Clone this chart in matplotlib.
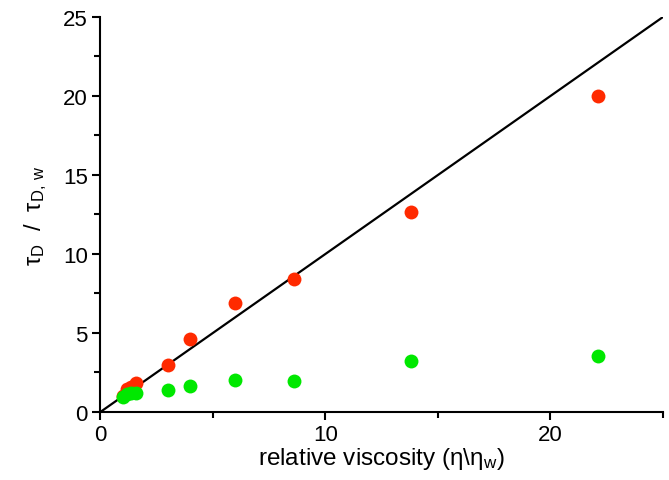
import matplotlib
matplotlib.use("Agg")
import matplotlib.pyplot as plt
from matplotlib.ticker import MultipleLocator

plt.rcParams['font.family'] = ['Liberation Sans', 'DejaVu Sans']
plt.rcParams['mathtext.fontset'] = 'custom'
plt.rcParams['mathtext.rm'] = 'Liberation Sans'
plt.rcParams['mathtext.it'] = 'Liberation Sans:italic'

viscosity = [1.0, 1.2, 1.35, 1.6, 3.0, 4.0, 6.0, 8.6, 13.8, 22.1]
tau_red = [1.0, 1.45, 1.55, 1.85, 3.0, 4.6, 6.9, 8.4, 12.65, 20.0]
tau_green = [0.97, 1.12, 1.2, 1.22, 1.42, 1.63, 2.02, 1.98, 3.23, 3.53]
line_x = [0, 25]
line_y = [0, 25]

fig = plt.figure(figsize=(6.69, 4.81), dpi=100)
ax = fig.add_axes([0.150, 0.1414, 0.841, 0.8212])

ax.plot(line_x, line_y, color='black', lw=1.6, zorder=1)
ax.plot(viscosity, tau_red, 'o', color='#ff2a00', ms=10, mec='none', zorder=2)
ax.plot(viscosity, tau_green, 'o', color='#00e800', ms=10, mec='none', zorder=3)

ax.set_xlim(0, 25)
ax.set_ylim(0, 25)
ax.xaxis.set_major_locator(MultipleLocator(10))
ax.xaxis.set_minor_locator(MultipleLocator(5))
ax.yaxis.set_major_locator(MultipleLocator(5))
ax.yaxis.set_minor_locator(MultipleLocator(2.5))

for s in ['top', 'right']:
    ax.spines[s].set_visible(False)
for s in ['left', 'bottom']:
    ax.spines[s].set_linewidth(1.5)

ax.tick_params(which='major', direction='out', length=6, width=1.5, labelsize=16, pad=3)
ax.tick_params(which='minor', direction='out', length=4, width=1.5)

ax.set_xlabel('relative viscosity (η\\η$_{\\mathrm{w}}$)', fontsize=17.5, labelpad=0)
ax.set_ylabel('τ$_{\\mathrm{D}}$  /  τ$_{\\mathrm{D,\\,w}}$', fontsize=17, labelpad=10)

fig.savefig('out.png', dpi=100)
